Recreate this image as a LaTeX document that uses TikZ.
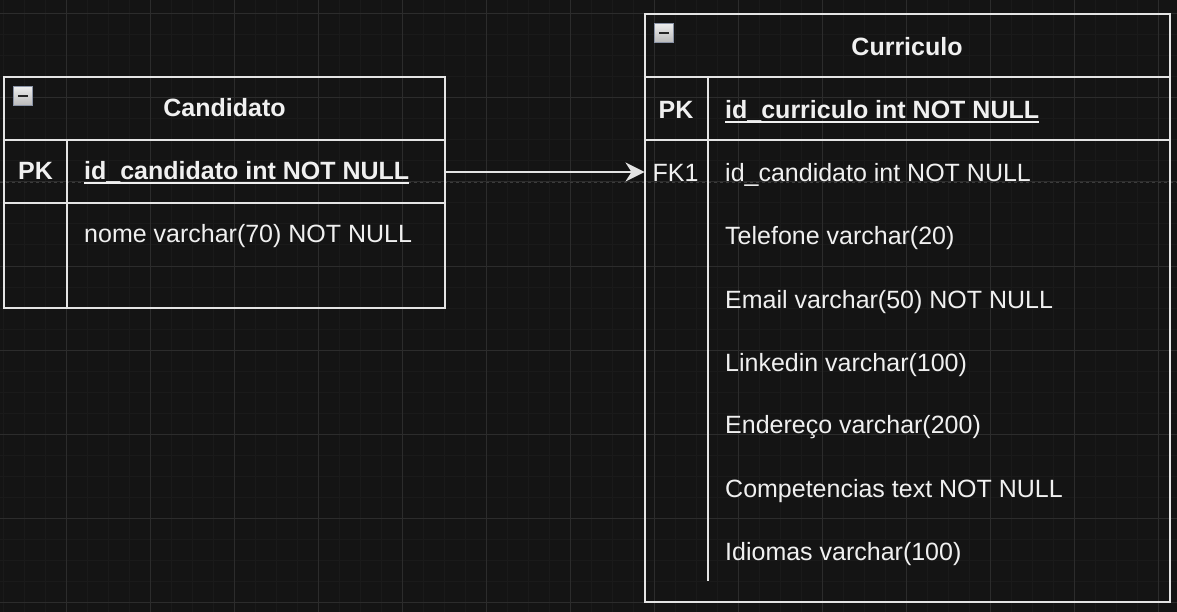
\documentclass[tikz,border=0pt]{standalone}
\usepackage{fontspec}
\setmainfont{Liberation Sans}
\usetikzlibrary{arrows.meta}

\definecolor{canvas}{HTML}{141414}
\definecolor{gridminor}{HTML}{1A1A1A}
\definecolor{gridmajor}{HTML}{2C2C2C}
\definecolor{pagebreak}{HTML}{3C3C3C}
\definecolor{edge}{HTML}{E4E4E4}
\definecolor{ink}{HTML}{F0F0F0}
\definecolor{iconedge}{HTML}{8A93A6}

\tikzset{
  tablebox/.style={draw=edge, line width=2pt, inner sep=0pt, outer sep=0pt, anchor=north west},
  rule/.style={draw=edge, line width=2pt},
  rowtext/.style={text=ink, inner sep=0pt, anchor=base west, font=\fontsize{25}{30}\selectfont},
  keytext/.style={rowtext, anchor=base},
  titletext/.style={rowtext, anchor=base, font=\fontsize{25}{30}\selectfont\bfseries},
}

\begin{document}
\begin{tikzpicture}[x=1pt, y=-1pt]
\useasboundingbox[fill=canvas] (0,0) rectangle (1177,612);
% grid
\foreach \k in {0,...,55} \draw[gridminor, line width=1pt] (3.7+21*\k,0) -- (3.7+21*\k,612);
\foreach \k in {-1,...,28} \draw[gridminor, line width=1pt] (0,14+21*\k) -- (1177,14+21*\k);
\foreach \k in {-1,...,13} \draw[gridmajor, line width=1pt] (66.7+84*\k,0) -- (66.7+84*\k,612);
\foreach \k in {0,...,7} \draw[gridmajor, line width=1pt] (0,14+84*\k) -- (1177,14+84*\k);
\draw[pagebreak, line width=0.8pt, dash pattern=on 3pt off 3pt] (0,182.3) -- (1177,182.3);

% Candidato
\node[tablebox, minimum width=441pt, minimum height=231pt] (cand) at (4,77) {};
\draw[rule] (4,140) -- (445,140);
\draw[rule] (4,203) -- (445,203);
\draw[rule] (67,140) -- (67,308);
\shade[top color=gray!15, bottom color=gray!55, draw=iconedge, line width=1pt] (13.5,87) rectangle (32,105.5);
\fill[black!85] (17.5,94.8) rectangle (28,97.4);
\node[titletext] (cand-title) at (224.5,117) {Candidato};
\node[keytext, font=\fontsize{25}{30}\selectfont\bfseries] (cand-pk) at (35.5,180) {PK};
\node[rowtext, font=\fontsize{25}{30}\selectfont\bfseries] (cand-pkfield) at (84,180) {id\_candidato int NOT NULL};
\draw[rule, draw=ink] ([yshift=-3.5pt]cand-pkfield.base west) -- ([yshift=-3.5pt]cand-pkfield.base east);
\node[rowtext] (cand-nome) at (84,243) {nome varchar(70) NOT NULL};
\coordinate (cand-link) at (cand.east |- 0,172);

% Curriculo
\node[tablebox, minimum width=525pt, minimum height=588pt] (curr) at (644.5,14) {};
\draw[rule] (644.5,77) -- (1169.5,77);
\draw[rule] (644.5,140) -- (1169.5,140);
\draw[rule] (707.5,77) -- (707.5,581);
\shade[top color=gray!15, bottom color=gray!55, draw=iconedge, line width=1pt] (654.5,24) rectangle (673,42.5);
\fill[black!85] (658.5,31.8) rectangle (669,34.4);
\node[titletext] (curr-title) at (907,56) {Curriculo};
\node[keytext, font=\fontsize{25}{30}\selectfont\bfseries] (curr-pk) at (676,119) {PK};
\node[rowtext, font=\fontsize{25}{30}\selectfont\bfseries] (curr-pkfield) at (725,119) {id\_curriculo int NOT NULL};
\draw[rule, draw=ink] ([yshift=-3.5pt]curr-pkfield.base west) -- ([yshift=-3.5pt]curr-pkfield.base east);
\node[keytext] (curr-fk) at (675.5,182) {FK1};
\node[rowtext] (curr-fkfield) at (725,182) {id\_candidato int NOT NULL};
\node[rowtext] (curr-fone) at (725,245) {Telefone varchar(20)};
\node[rowtext] (curr-email) at (725,308) {Email varchar(50) NOT NULL};
\node[rowtext] (curr-linkedin) at (725,371) {Linkedin varchar(100)};
\node[rowtext] (curr-end) at (725,433.5) {Endereço varchar(200)};
\node[rowtext] (curr-comp) at (725,497) {Competencias text NOT NULL};
\node[rowtext] (curr-idiomas) at (725,560) {Idiomas varchar(100)};
\coordinate (curr-link) at (curr.west |- 0,172);

% relationship
\draw[-{Stealth[length=19pt, width=19pt, inset=6pt]}, edge, line width=2pt] (cand-link) -- (curr-link);
\end{tikzpicture}
\end{document}
